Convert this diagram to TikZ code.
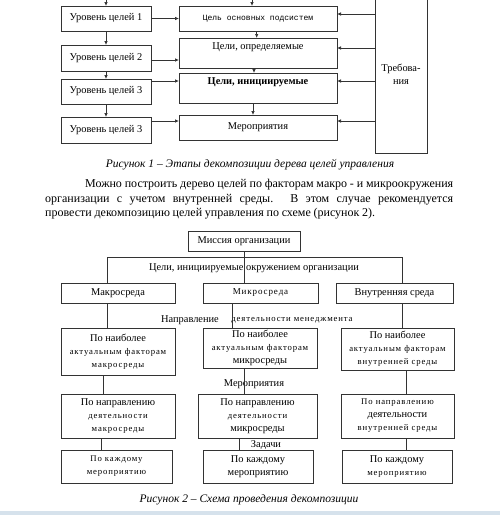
\documentclass[tikz,border=0pt]{standalone}
\usepackage{fontspec}
\setmainfont{Liberation Serif}
\newfontfamily\spc[LetterSpace=10]{Liberation Serif}
\newfontfamily\mono{Liberation Mono}
\usetikzlibrary{arrows.meta,calc}
\newcommand\lsp[1]{{\spc\fontsize{8.7}{13}\selectfont #1}}
\newcommand\mkbox[6]{\node[box,anchor=north west,minimum width={#4pt-#2pt},minimum height={#5pt-#3pt}] (#1) at (#2,#3) {#6};}
\tikzset{
  box/.style={draw=black!80, line width=0.7pt, inner sep=0pt, outer sep=0pt, align=center, font=\fontsize{10.4}{13}\selectfont},
  arr/.style={draw=black!80, line width=0.7pt, -{Latex[length=4pt,width=3.5pt]}},
  ln/.style={draw=black!80, line width=0.7pt},
  lbl/.style={inner sep=0pt, font=\fontsize{10.4}{12}\selectfont},
  figcap/.style={inner sep=0pt, font=\fontsize{11.5}{13}\selectfont\itshape},
  para/.style={inner sep=0pt, anchor=west, font=\fontsize{12}{14}\selectfont}
}
\begin{document}
\begin{tikzpicture}[x=1pt,y=-1pt]
\useasboundingbox (0,0) rectangle (500,515);
% ---------- Figure 1 ----------
\mkbox{L1}{61}{6}{151}{31}{Уровень целей 1}
\mkbox{L2}{61}{45}{151}{71}{Уровень целей 2}
\mkbox{L3}{61}{79}{151}{104}{Уровень целей 3}
\mkbox{L4}{61}{117}{151}{143}{Уровень целей 3}
\mkbox{M1}{179}{6}{337}{31}{{\mono\fontsize{8}{10}\selectfont Цель основных подсистем}}
\mkbox{M2}{179}{38}{337}{68}{Цели, определяемые\\~}
\mkbox{M3}{179}{73}{337}{103}{\textbf{Цели, инициируемые}\\~}
\mkbox{M4}{179}{115}{337}{140}{Мероприятия}
\mkbox{T}{375}{-5}{427}{153}{Требова-\\ния}
\coordinate (tL) at (106,-3);
\coordinate (tM) at (252,-3);
\draw[arr] (tL) -- (tL |- L1.north);
\draw[arr] (tM) -- (tM |- M1.north);
\draw[arr] (L1.south) -- (L2.north);
\draw[arr] (L2.south) -- (L3.north);
\draw[arr] (L3.south) -- (L4.north);
\coordinate (l1) at (L1.east);
\coordinate (l2) at ([yshift=-2pt]L2.east);
\coordinate (l3) at ([yshift=-2pt]L3.north east);
\coordinate (l4) at ([yshift=-4pt]L4.north east);
\draw[arr] (l1) -- (l1 -| M1.west);
\draw[arr] (l2) -- (l2 -| M2.west);
\draw[arr] (l3) -- (l3 -| M3.west);
\draw[arr] (l4) -- (l4 -| M4.west);
\coordinate (r1) at ([yshift=4.5pt]M1.east);
\coordinate (r2) at ([yshift=5pt]M2.east);
\coordinate (r3) at ([yshift=7pt]M3.east);
\coordinate (r4) at ([yshift=6.5pt]M4.east);
\draw[arr] (r1 -| T.west) -- (r1);
\draw[arr] (r2 -| T.west) -- (r2);
\draw[arr] (r3 -| T.west) -- (r3);
\draw[arr] (r4 -| T.west) -- (r4);
\coordinate (d1) at ([xshift=-1.3pt]M1.south);
\coordinate (d2) at ([xshift=-4pt]M2.south);
\coordinate (d3) at ([xshift=-5pt]M3.south);
\draw[arr] (d1) -- (d1 |- M2.north);
\draw[arr] (d2) -- (d2 |- M3.north);
\draw[arr] (d3) -- (d3 |- M4.north);
\node[figcap] (cap1) at (250,165) {Рисунок 1 – Этапы декомпозиции дерева целей управления};
% ---------- Text ----------
\node[para] (p1) at (85,185) {\makebox[368pt][s]{Можно построить дерево целей по факторам макро - и микроокружения}};
\node[para] (p2) at (45,200) {\makebox[408pt][s]{организации с учетом внутренней среды. В этом случае рекомендуется}};
\node[para] (p3) at (45,214) {\makebox[330pt][s]{провести декомпозицию целей управления по схеме (рисунок 2).}};
% ---------- Figure 2 ----------
\mkbox{Mis}{188}{231}{300}{251}{Миссия организации}
\node[lbl] (goals) at (254,268) {Цели, инициируемые окружением организации};
\mkbox{Mac}{61}{283}{175}{303}{Макросреда}
\mkbox{Mic}{203}{283}{318}{303}{{\spc\fontsize{9}{12}\selectfont Микросреда}}
\mkbox{Int}{336}{283}{453}{303}{Внутренняя среда}
\coordinate (hl) at (107,257);
\coordinate (hr) at (402,257);
\draw[ln] (Mis.south) -- (Mis.south |- Mic.north);
\draw[ln] (hl |- Mac.north) -- (hl) -- (hr) -- (hr |- Int.north);
\node[lbl] (napr) at (190,320) {Направление};
\node[lbl] (dm) at (292,320) {\lsp{деятельности менеджмента}};
\mkbox{Mac3}{61}{328}{175}{375}{По наиболее\\\lsp{актуальным факторам}\\\lsp{макросреды}}
\mkbox{Mic3}{203}{328}{317}{368}{По наиболее\\\lsp{актуальным факторам}\\микросреды}
\mkbox{Int3}{341}{328}{454}{370}{По наиболее\\\lsp{актуальным факторам}\\\lsp{внутренней среды}}
\coordinate (a1) at (232,0);
\draw[ln] (hl |- Mac.south) -- (hl |- Mac3.north);
\draw[ln] (a1 |- Mic.south) -- (a1 |- Mic3.north);
\draw[ln] (hr |- Int.south) -- (hr |- Int3.north);
\node[lbl] (mer) at (254,384) {Мероприятия};
\mkbox{Mac4}{61}{394}{175}{438}{По направлению\\\lsp{деятельности}\\\lsp{макросреды}}
\mkbox{Mic4}{198}{394}{317}{438}{По направлению\\\lsp{деятельности}\\микросреды}
\mkbox{Int4}{341}{394}{454}{438}{\lsp{По направлению}\\деятельности\\\lsp{внутренней среды}}
\coordinate (b1) at (103,0);
\coordinate (b2) at (244,0);
\coordinate (b3) at (406,0);
\draw[ln] (b1 |- Mac3.south) -- (b1 |- Mac4.north);
\draw[ln] (b2 |- Mic3.south) -- (b2 |- Mic4.north);
\draw[ln] (b3 |- Int3.south) -- (b3 |- Int4.north);
\node[lbl] (zad) at (266,445) {Задачи};
\mkbox{Mac5}{61}{450}{172}{483}{\lsp{По каждому}\\\lsp{мероприятию}}
\mkbox{Mic5}{203}{450}{313}{483}{По каждому\\мероприятию}
\mkbox{Int5}{342}{450}{452}{483}{По каждому\\\lsp{мероприятию}}
\coordinate (c1) at (101,0);
\coordinate (c2) at (239,0);
\coordinate (c3) at (406,0);
\draw[ln] (c1 |- Mac4.south) -- (c1 |- Mac5.north);
\draw[ln] (c2 |- Mic4.south) -- (c2 |- Mic5.north);
\draw[ln] (c3 |- Int4.south) -- (c3 |- Int5.north);
\node[figcap] (cap2) at (249,500) {Рисунок 2 – Схема проведения декомпозиции};
\fill[color={rgb,255:red,214;green,226;blue,236}] (0,511) rectangle (500,515);
\end{tikzpicture}
\end{document}
